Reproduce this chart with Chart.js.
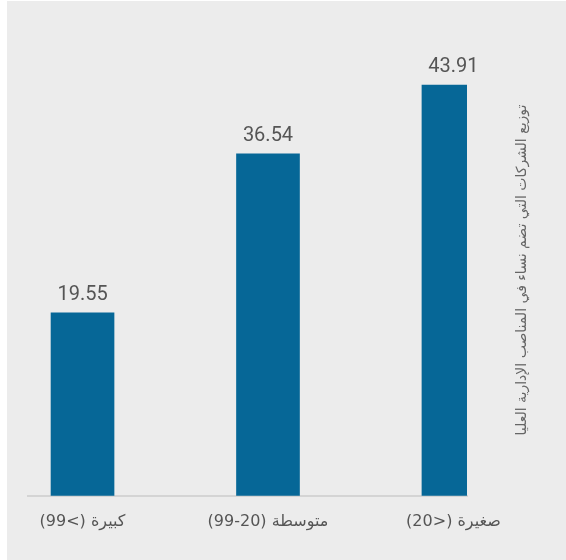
<!DOCTYPE html>
<html lang="ar">
<head>
<meta charset="utf-8">
<script src="https://cdn.jsdelivr.net/npm/chart.js@4/dist/chart.umd.min.js"></script>
<style>
  html, body { margin: 0; padding: 0; background: #ffffff; }
  #wrap { position: absolute; left: 0; top: 0; width: 566px; height: 560px; }
</style>
</head>
<body>
<div id="wrap"><canvas id="c" width="566" height="560" dir="rtl"></canvas></div>
<script>
// Company size categories and share of companies with women in senior management (%)
const categories = ['كبيرة (>99)', 'متوسطة (20-99)', 'صغيرة (<20)'];
const shares = [19.55, 36.54, 43.91];
const axisTitle = 'توزيع الشركات التي تضم نساء في المناصب الإدارية العليا';

const textGrey = '#555555';
const barBlue = '#066797';

// Page panel behind the chart
const panelBackground = {
  id: 'panelBackground',
  beforeDraw(chart) {
    const ctx = chart.ctx;
    ctx.save();
    ctx.fillStyle = '#ffffff';
    ctx.fillRect(0, 0, chart.width, chart.height);
    ctx.fillStyle = '#ececec';
    ctx.fillRect(7, 1, chart.width - 7, chart.height - 1);
    ctx.restore();
  }
};

// Value printed above each bar
const barValues = {
  id: 'barValues',
  afterDatasetsDraw(chart) {
    const ctx = chart.ctx;
    const meta = chart.getDatasetMeta(0);
    ctx.save();
    ctx.fillStyle = textGrey;
    ctx.font = '20px "Liberation Sans Narrow", "Roboto", sans-serif';
    ctx.textAlign = 'center';
    ctx.textBaseline = 'middle';
    ctx.direction = 'ltr';
    meta.data.forEach((bar, i) => {
      ctx.fillText(shares[i].toFixed(2), bar.x, bar.y - 18);
    });
    ctx.restore();
  }
};

// Vertical title on the right-hand side
const sideTitle = {
  id: 'sideTitle',
  afterDraw(chart) {
    const ctx = chart.ctx;
    ctx.save();
    ctx.translate(522, 270);
    ctx.rotate(-Math.PI / 2);
    ctx.fillStyle = '#666666';
    ctx.font = '14px "DejaVu Sans", sans-serif';
    ctx.direction = 'rtl';
    ctx.textAlign = 'center';
    ctx.textBaseline = 'middle';
    ctx.fillText(axisTitle, 0, 0);
    ctx.restore();
  }
};

new Chart(document.getElementById('c'), {
  type: 'bar',
  data: {
    datasets: [{
      data: shares.map((v, i) => ({ x: i, y: v })),
      backgroundColor: barBlue,
      borderWidth: 0,
      barThickness: 63
    }]
  },
  options: {
    responsive: false,
    animation: false,
    devicePixelRatio: 1,
    layout: { padding: { left: 28, right: 99, top: 28, bottom: 21 } },
    plugins: {
      legend: { display: false },
      tooltip: { enabled: false }
    },
    scales: {
      x: {
        type: 'linear',
        offset: false,
        bounds: 'data',
        min: -0.294,
        max: 2.073,
        afterBuildTicks(scale) {
          scale.ticks = categories.map((_, i) => ({ value: i }));
        },
        grid: { display: false, offset: false },
        border: { display: true, color: '#d4d4d4', width: 2 },
        ticks: {
          autoSkip: false,
          maxRotation: 0,
          padding: 8,
          color: textGrey,
          font: { family: '"Liberation Sans Narrow", "DejaVu Sans", sans-serif', size: 16 },
          callback: (v) => categories[v]
        }
      },
      y: {
        display: false,
        min: 0,
        max: 50
      }
    }
  },
  plugins: [panelBackground, barValues, sideTitle]
});
</script>
</body>
</html>
